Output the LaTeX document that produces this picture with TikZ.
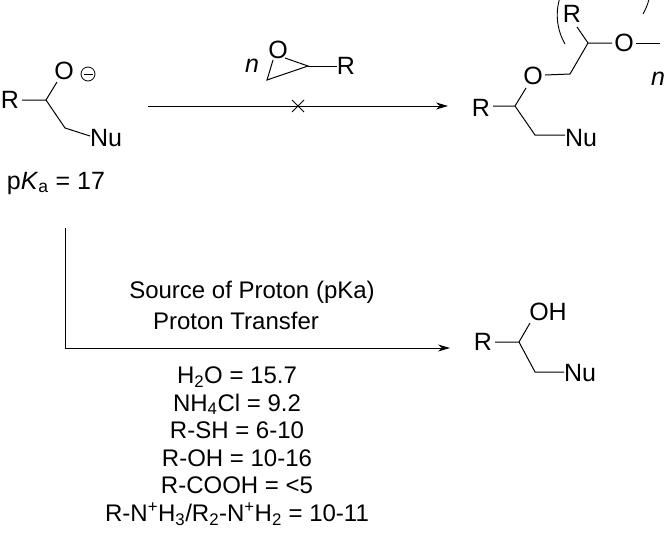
\documentclass[tikz,border=0pt]{standalone}
\usepackage{fontspec}
\setmainfont{Liberation Sans}
\usetikzlibrary{arrows.meta}
\begin{document}
\begin{tikzpicture}[x=1pt,y=-1pt,
  bond/.style={line width=1pt},
  atom/.style={inner sep=0pt,font=\fontsize{25}{25}\selectfont},
  lbl/.style={inner sep=0pt,font=\fontsize{24}{27.6}\selectfont,align=center},
  rxn/.style={line width=1pt,-{Stealth[length=12pt,width=7pt]}}]
\useasboundingbox (0,0) rectangle (667,533);
% reactant
\node[atom] (r1) at (10,100) {R};
\node[atom] (o1) at (64,71) {O};
\node[inner sep=0pt,circle,draw,line width=0.8pt,minimum size=14pt] (m1) at (88,74) {};
\draw[line width=0.8pt] ([xshift=-4.5pt]m1.center) -- ([xshift=4.5pt]m1.center);
\node[atom] (nu1) at (106,138) {Nu};
\coordinate (c1) at (46,100);
\coordinate (c2) at (65,128);
\draw[bond] (22,100) -- (c1) -- (c2) -- (90,136);
\draw[bond] (c1) -- (57,82);
\node[atom] (pka) at (56,183) {p\textit{K}\textsubscript{a} = 17};
% epoxide reagent
\node[atom,font=\fontsize{25}{25}\selectfont\itshape] (n1) at (252,66) {n};
\node[atom] (eo) at (278,50) {O};
\node[atom] (er) at (346,66) {R};
\coordinate (ec1) at (267,80);
\coordinate (ec2) at (308,66);
\draw[bond] (273,60) -- (ec1) -- (ec2) -- (285,58);
\draw[bond] (ec2) -- (337,66);
% top arrow
\coordinate (a1) at (148,106);
\coordinate (a2) at (448,106);
\draw[rxn] (a1) -- (a2);
\draw[line width=1pt] (292,100) -- (304,112) (292,112) -- (304,100);
% product polymer
\node[atom] (pr) at (481,108) {R};
\coordinate (pc1) at (515,106);
\coordinate (pc2) at (535,135);
\node[atom] (pnu) at (581,138) {Nu};
\node[atom] (po) at (533,76) {O};
\coordinate (pc3) at (570,74);
\coordinate (pc4) at (588,43);
\node[atom] (prr) at (572,14) {R};
\node[atom] (po2) at (624,43) {O};
\draw[bond] (493,106) -- (pc1) -- (pc2) -- (565,135);
\draw[bond] (pc1) -- (526,88);
\draw[bond] (545,75) -- (pc3) -- (pc4) -- (612,43);
\draw[bond] (pc4) -- (577,27);
\draw[bond] (636,43) -- (660,43);
\draw[line width=0.9pt] (565,44) arc[start angle=150,end angle=210,radius=58];
\draw[line width=0.9pt] (643,14) arc[start angle=30,end angle=-30,radius=58];
\node[atom,font=\fontsize{25}{25}\selectfont\itshape] (pn) at (658,79) {n};
% proton transfer arrow
\coordinate (v1) at (65,228);
\coordinate (v2) at (65,348);
\coordinate (v3) at (450,348);
\draw[rxn] (v1) -- (v2) -- (v3);
\node[lbl] (src) at (252,292) {Source of Proton (pKa)};
\node[lbl] (pt) at (236,321) {Proton Transfer};
\node[lbl] (list) at (237,446) {H\textsubscript{2}O = 15.7\\NH\textsubscript{4}Cl = 9.2\\R-SH = 6-10\\R-OH = 10-16\\R-COOH = <5\\R-N\textsuperscript{+}H\textsubscript{3}/R\textsubscript{2}-N\textsuperscript{+}H\textsubscript{2} = 10-11};
% product alcohol
\node[atom] (qr) at (483,342) {R};
\coordinate (qc1) at (519,342);
\coordinate (qc2) at (535,372);
\node[atom] (qoh) at (548,312) {OH};
\node[atom] (qnu) at (580,373) {Nu};
\draw[bond] (495,342) -- (qc1) -- (qc2) -- (564,372);
\draw[bond] (qc1) -- (530,323);
\end{tikzpicture}
\end{document}
